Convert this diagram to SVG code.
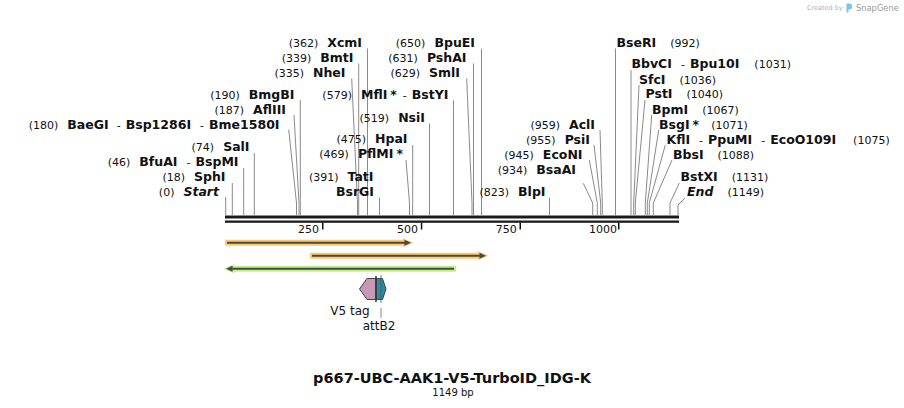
<svg xmlns="http://www.w3.org/2000/svg" width="904" height="408" viewBox="0 0 904 408">
<style>
text{font-family:"DejaVu Sans","Liberation Sans",sans-serif;fill:#111}
.l{font-size:11px}
.r{font-size:11px;font-weight:normal}
.b{font-size:12.5px;font-weight:bold}
.i{font-size:12.5px;font-weight:bold;font-style:italic}
.ld{stroke:#8a8a8a;stroke-width:1;fill:none}
.tk{font-size:11px}
.hlo{stroke:#fcc874;stroke-width:6}
.hlg{stroke:#c0f08c;stroke-width:6}
.dk{stroke:#4a4a3c;stroke-width:2}
</style>
<rect width="904" height="408" fill="#fff"/>
<g id="watermark">
<text x="807" y="10" style="font-size:6.5px;fill:#b0b0b0">Created by</text>
<path d="M846.5 3.5 h3 a2.5 2.5 0 0 1 2.5 2.5 v1 a2.5 2.5 0 0 1 -2.5 2.5 h-1 v3 h-2 z" fill="#7cc4ee"/>
<text x="856" y="11" style="font-size:8.3px;fill:#9a9a9a">SnapGene</text>
</g>
<g id="leaders">
<path class="ld" d="M225.7 197V215"/>
<path class="ld" d="M232.3 183V215"/>
<path class="ld" d="M243.7 168V215"/>
<path class="ld" d="M254.3 153V215"/>
<path class="ld" d="M288.7 129.5L296.5 203V215"/>
<path class="ld" d="M294 115L299 203V215"/>
<path class="ld" d="M300.3 100V215"/>
<path class="ld" d="M351.7 78.5L357.5 203V215"/>
<path class="ld" d="M358.7 63.5V215"/>
<path class="ld" d="M367.5 48.5V215"/>
<path class="ld" d="M379.5 197.5V215"/>
<path class="ld" d="M406 160L409.5 203V215"/>
<path class="ld" d="M412.7 145V215"/>
<path class="ld" d="M429.5 123.5V215"/>
<path class="ld" d="M453.5 100.5V215"/>
<path class="ld" d="M466.7 78.5L472 203V215"/>
<path class="ld" d="M473.5 63.5V215"/>
<path class="ld" d="M481.5 48.5V215"/>
<path class="ld" d="M549.5 197.5V215"/>
<path class="ld" d="M583.3 183.3L592.7 203V215"/>
<path class="ld" d="M589.3 160L597.3 203V215"/>
<path class="ld" d="M594 145L600.7 203V215"/>
<path class="ld" d="M600 130L602.3 203V215"/>
<path class="ld" d="M615.5 48.5V215"/>
<path class="ld" d="M631 70V215"/>
<path class="ld" d="M639 85L633.7 203V215"/>
<path class="ld" d="M645 100L635.3 203V215"/>
<path class="ld" d="M651.7 115L645.3 203V215"/>
<path class="ld" d="M658.7 130L647.3 203V215"/>
<path class="ld" d="M665.3 145L649.3 203V215"/>
<path class="ld" d="M672 160L653.3 203V215"/>
<path class="ld" d="M679.3 183L670 203V215"/>
<path class="ld" d="M685 198L678 205V215"/>
</g>
<g id="sites">
<g id="s0"><text class="l" x="219" y="196" text-anchor="end"><tspan class="r">(0)</tspan><tspan class="i" dx="9">Start</tspan></text></g>
<g id="s18"><text class="l" x="225.5" y="181" text-anchor="end"><tspan class="r">(18)</tspan><tspan class="b" dx="9">SphI</tspan></text></g>
<g id="s46"><text class="l" x="238.5" y="166" text-anchor="end"><tspan class="r">(46)</tspan><tspan class="b" dx="9">BfuAI</tspan><tspan class="r" dx="9">-</tspan><tspan class="b" dx="5">BspMI</tspan></text></g>
<g id="s74"><text class="l" x="249.5" y="151" text-anchor="end"><tspan class="r">(74)</tspan><tspan class="b" dx="9">SalI</tspan></text></g>
<g id="s180"><text class="l" x="279.5" y="128.5" text-anchor="end"><tspan class="r">(180)</tspan><tspan class="b" dx="9">BaeGI</tspan><tspan class="r" dx="8">-</tspan><tspan class="b" dx="5">Bsp1286I</tspan><tspan class="r" dx="9">-</tspan><tspan class="b" dx="5">Bme1580I</tspan></text></g>
<g id="s187"><text class="l" x="286" y="113.5" text-anchor="end"><tspan class="r">(187)</tspan><tspan class="b" dx="9">AflIII</tspan></text></g>
<g id="s190"><text class="l" x="294.5" y="98.5" text-anchor="end"><tspan class="r">(190)</tspan><tspan class="b" dx="9">BmgBI</tspan></text></g>
<g id="s335"><text class="l" x="345.5" y="76.5" text-anchor="end"><tspan class="r">(335)</tspan><tspan class="b" dx="9">NheI</tspan></text></g>
<g id="s339"><text class="l" x="353.5" y="61.5" text-anchor="end"><tspan class="r">(339)</tspan><tspan class="b" dx="9">BmtI</tspan></text></g>
<g id="s362"><text class="l" x="362" y="46.5" text-anchor="end"><tspan class="r">(362)</tspan><tspan class="b" dx="9">XcmI</tspan></text></g>
<g id="s391"><text class="l" x="373.5" y="181" text-anchor="end"><tspan class="r">(391)</tspan><tspan class="b" dx="9">TatI</tspan></text><text class="b" x="374" y="196" text-anchor="end">BsrGI</text></g>
<g id="s469"><text class="l" x="403" y="157.5" text-anchor="end"><tspan class="r">(469)</tspan><tspan class="b" dx="9">PflMI</tspan><tspan class="b" dx="3">*</tspan></text></g>
<g id="s475"><text class="l" x="407.5" y="142.5" text-anchor="end"><tspan class="r">(475)</tspan><tspan class="b" dx="9">HpaI</tspan></text></g>
<g id="s519"><text class="l" x="425" y="121.5" text-anchor="end"><tspan class="r">(519)</tspan><tspan class="b" dx="9">NsiI</tspan></text></g>
<g id="s579"><text class="l" x="448.5" y="98.5" text-anchor="end"><tspan class="r">(579)</tspan><tspan class="b" dx="9">MflI</tspan><tspan class="b" dx="3">*</tspan><tspan class="r" dx="6">-</tspan><tspan class="b" dx="5">BstYI</tspan></text></g>
<g id="s629"><text class="l" x="460" y="76.5" text-anchor="end"><tspan class="r">(629)</tspan><tspan class="b" dx="9">SmlI</tspan></text></g>
<g id="s631"><text class="l" x="466.5" y="61.5" text-anchor="end"><tspan class="r">(631)</tspan><tspan class="b" dx="9">PshAI</tspan></text></g>
<g id="s650"><text class="l" x="475" y="46.5" text-anchor="end"><tspan class="r">(650)</tspan><tspan class="b" dx="9">BpuEI</tspan></text></g>
<g id="s823"><text class="l" x="545.5" y="196" text-anchor="end"><tspan class="r">(823)</tspan><tspan class="b" dx="9">BlpI</tspan></text></g>
<g id="s934"><text class="l" x="576" y="173.5" text-anchor="end"><tspan class="r">(934)</tspan><tspan class="b" dx="9">BsaAI</tspan></text></g>
<g id="s945"><text class="l" x="582.5" y="158.5" text-anchor="end"><tspan class="r">(945)</tspan><tspan class="b" dx="9">EcoNI</tspan></text></g>
<g id="s955"><text class="l" x="590" y="143.5" text-anchor="end"><tspan class="r">(955)</tspan><tspan class="b" dx="9">PsiI</tspan></text></g>
<g id="s959"><text class="l" x="595" y="128.5" text-anchor="end"><tspan class="r">(959)</tspan><tspan class="b" dx="9">AclI</tspan></text></g>
<g id="s992"><text class="l" x="616.5" y="46.5"><tspan class="b">BseRI</tspan><tspan class="r" dx="14">(992)</tspan></text></g>
<g id="s1031"><text class="l" x="631.5" y="67.5"><tspan class="b">BbvCI</tspan><tspan class="r" dx="9">-</tspan><tspan class="b" dx="5">Bpu10I</tspan><tspan class="r" dx="15">(1031)</tspan></text></g>
<g id="s1036"><text class="l" x="639" y="83.5"><tspan class="b">SfcI</tspan><tspan class="r" dx="14">(1036)</tspan></text></g>
<g id="s1040"><text class="l" x="645.5" y="98"><tspan class="b">PstI</tspan><tspan class="r" dx="14">(1040)</tspan></text></g>
<g id="s1067"><text class="l" x="652" y="113.5"><tspan class="b">BpmI</tspan><tspan class="r" dx="14">(1067)</tspan></text></g>
<g id="s1071"><text class="l" x="659" y="128.5"><tspan class="b">BsgI</tspan><tspan class="b" dx="3">*</tspan><tspan class="r" dx="12">(1071)</tspan></text></g>
<g id="s1075"><text class="l" x="666.5" y="143.5"><tspan class="b">KflI</tspan><tspan class="r" dx="9">-</tspan><tspan class="b" dx="5">PpuMI</tspan><tspan class="r" dx="9">-</tspan><tspan class="b" dx="5">EcoO109I</tspan><tspan class="r" dx="17">(1075)</tspan></text></g>
<g id="s1088"><text class="l" x="673" y="158.5"><tspan class="b">BbsI</tspan><tspan class="r" dx="14">(1088)</tspan></text></g>
<g id="s1131"><text class="l" x="680.5" y="181"><tspan class="b">BstXI</tspan><tspan class="r" dx="14">(1131)</tspan></text></g>
<g id="s1149"><text class="l" x="687" y="196"><tspan class="i">End</tspan><tspan class="r" dx="14">(1149)</tspan></text></g>
</g>
<g id="backbone">
<rect x="225" y="215.5" width="454" height="3" fill="#1c1c1c"/>
<rect x="225" y="220.5" width="454" height="2.3" fill="#1c1c1c"/>
<g fill="#111">
<rect x="322" y="222.5" width="1.5" height="7"/>
<rect x="420.8" y="222.5" width="1.5" height="7"/>
<rect x="519.5" y="222.5" width="1.5" height="7"/>
<rect x="618" y="222.5" width="1.5" height="7"/>
</g>
<text class="tk" x="319" y="233" text-anchor="end">250</text>
<text class="tk" x="418" y="233" text-anchor="end">500</text>
<text class="tk" x="516.8" y="233" text-anchor="end">750</text>
<text class="tk" x="617" y="233" text-anchor="end">1000</text>
</g>
<g id="f1">
<line class="hlo" x1="225" y1="242.8" x2="406" y2="242.8"/>
<polygon points="403,238.3 413.5,242.8 403,247.3" fill="#fcc874"/>
<line class="dk" x1="227" y1="242.8" x2="406" y2="242.8"/>
<polygon points="404.5,239.8 411,242.8 404.5,245.8" fill="#4a4a3c"/>
</g>
<g id="f2">
<line class="hlo" x1="310" y1="255.8" x2="481" y2="255.8"/>
<polygon points="478,251.3 488.5,255.8 478,260.3" fill="#fcc874"/>
<line class="dk" x1="312" y1="255.8" x2="481" y2="255.8"/>
<polygon points="479.5,252.8 486,255.8 479.5,258.8" fill="#4a4a3c"/>
</g>
<g id="f3">
<line class="hlg" x1="456" y1="268.7" x2="231" y2="268.7"/>
<polygon points="234,264.2 223.5,268.7 234,273.2" fill="#c0f08c"/>
<line class="dk" x1="454" y1="268.7" x2="231" y2="268.7"/>
<polygon points="232.5,265.7 226,268.7 232.5,271.7" fill="#4a4a3c"/>
</g>
<g id="v5tag">
<polygon points="359.5,289 367,278.5 376,278.5 376,299.5 367,299.5" fill="#c799b7" stroke="#444" stroke-width="1"/>
<text x="350" y="315" text-anchor="middle" style="font-size:12px">V5 tag</text>
</g>
<g id="attB2">
<polygon points="376,278.5 382.5,278.5 386,289 382.5,299.5 376,299.5" fill="#2d899e" stroke="#444" stroke-width="1"/>
<line x1="376" y1="276" x2="376" y2="302" stroke="#333" stroke-width="1.5"/>
<line x1="381" y1="275" x2="381" y2="303" stroke="#555" stroke-width="0.8"/>
<line x1="381" y1="308" x2="381" y2="318" stroke="#888" stroke-width="1"/>
<text x="379" y="330" text-anchor="middle" style="font-size:12px">attB2</text>
</g>
<g id="title">
<text x="452" y="383" text-anchor="middle" style="font-size:14.5px;font-weight:bold">p667-UBC-AAK1-V5-TurboID_IDG-K</text>
<text x="453" y="396" text-anchor="middle" style="font-size:10px">1149 bp</text>
</g>
</svg>
